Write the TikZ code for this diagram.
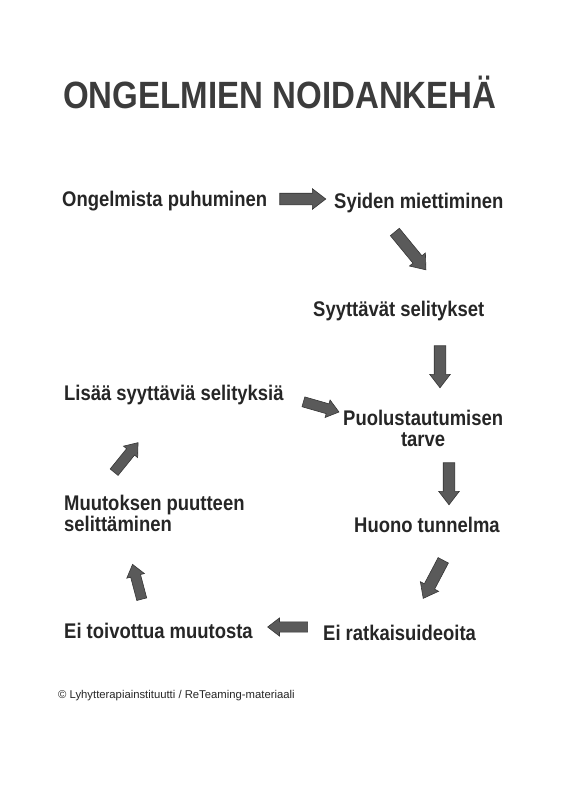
\documentclass[tikz,border=0pt]{standalone}
\usepackage{fontspec}
\setmainfont{Liberation Sans}[FakeStretch=0.87]
\newfontfamily\footfont{Liberation Sans}
\usetikzlibrary{shapes.arrows}
\definecolor{ink}{HTML}{262626}
\definecolor{arrowfill}{HTML}{5A5A5A}
\definecolor{arrowline}{HTML}{363636}
\tikzset{
  lbl/.style={font=\bfseries\fontsize{21.2}{21}\selectfont, text=ink, inner sep=0pt, anchor=base west},
  blk/.style={single arrow, fill=arrowfill, draw=arrowline, line width=0.6pt,
    inner xsep=0pt, inner ysep=5.5pt, single arrow head extend=4.5pt, single arrow tip angle=75,
    minimum height=#1},
  blk/.default=40pt,
  thin/.style={inner ysep=4.8pt, single arrow head extend=4pt},
}
\begin{document}
\begin{tikzpicture}[x=1pt,y=-1pt]
\useasboundingbox[fill=white] (0,0) rectangle (565,800);
\node[lbl, font=\bfseries\fontsize{38}{38}\selectfont, text=ink!90] (title) at (63,108) {ONGELMIEN NOIDANKEHÄ};

\node[lbl] (a) at (62,206) {Ongelmista puhuminen};
\node[lbl] (b) at (334,208) {Syiden miettiminen};
\node[lbl] (c) at (313,316) {Syyttävät selitykset};
\node[lbl] (d) at (64,400) {Lisää syyttäviä selityksiä};
\node[lbl, align=center] (e) at (343,446) {Puolustautumisen\\tarve};
\node[lbl, align=left] (f) at (64,531) {Muutoksen puutteen\\selittäminen};
\node[lbl] (g) at (354,532) {Huono tunnelma};
\node[lbl] (h) at (64,638) {Ei toivottua muutosta};
\node[lbl] (i) at (323,640) {Ei ratkaisuideoita};

\node[blk=46pt, rotate=0] (ar1) at (299,199) {};
\node[blk=49pt, rotate=-50.6] (ar2) at (408,248) {};
\node[blk=42pt, rotate=-90] (ar3) at (440,363) {};
\node[blk=37pt, rotate=-16, thin] (ar4) at (318,406) {};
\node[blk=42pt, rotate=-90] (ar5) at (449,480) {};
\node[blk=38pt, rotate=51, thin] (ar6) at (124,460) {};
\node[blk=43pt, rotate=-117.8] (ar7) at (435,576) {};
\node[blk=40pt, rotate=180, thin] (ar8) at (291,627) {};
\node[blk=36pt, rotate=104.8, thin] (ar9) at (138,585) {};

\node[anchor=base west, inner sep=0pt, text=ink, font=\footfont\fontsize{11.3}{12}\selectfont] (foot) at (58,698) {© Lyhytterapiainstituutti / ReTeaming-materiaali};
\end{tikzpicture}
\end{document}
